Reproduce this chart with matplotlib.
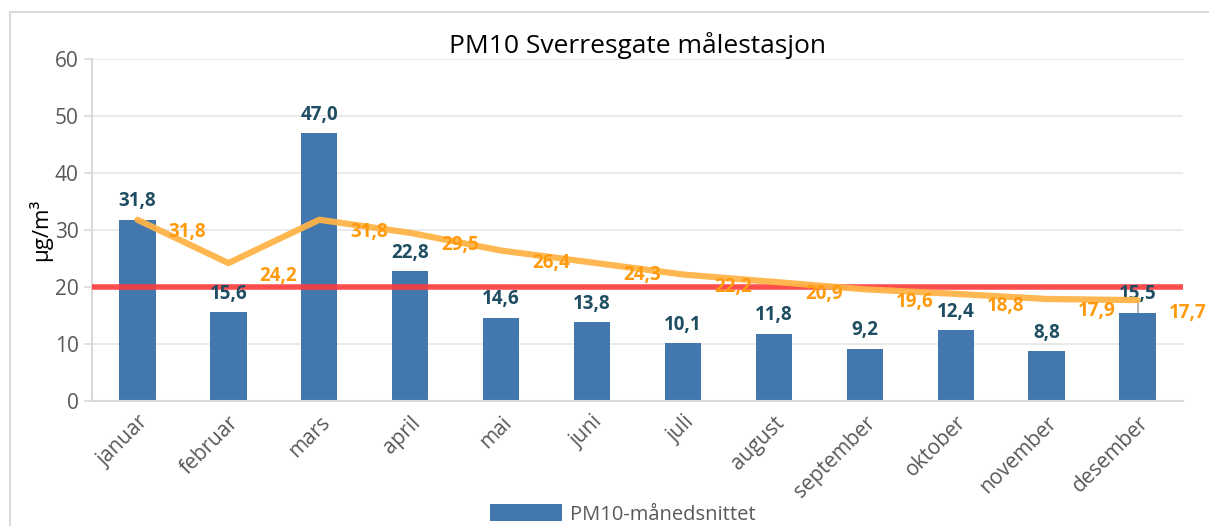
import matplotlib.pyplot as plt
from matplotlib.lines import Line2D

# monthly PM10 means and running average, Sverresgate
months = ["januar", "februar", "mars", "april", "mai", "juni", "juli",
          "august", "september", "oktober", "november", "desember"]
monthly = [31.8, 15.6, 47.0, 22.8, 14.6, 13.8, 10.1, 11.8, 9.2, 12.4, 8.8, 15.5]
running = [31.8, 24.2, 31.8, 29.5, 26.4, 24.3, 22.2, 20.9, 19.6, 18.8, 17.9, 17.7]
limit = 20
yticks = [0, 10, 20, 30, 40, 50, 60]

plt.rcParams['font.family'] = ['Open Sans', 'DejaVu Sans']

fig = plt.figure(figsize=(12.09, 5.26), dpi=100)
ax = fig.add_axes([0.0761, 0.2376, 0.9024, 0.6502])

# outer chart border (left and top edges only are visible)
bx, by = 10 / 1209, 1 - 12 / 526
fig.lines.append(Line2D([bx, bx, 1.0], [0.0, by, by], transform=fig.transFigure,
                        color="#D9D9D9", linewidth=1.5))

x = list(range(len(months)))
bar_color = "#4378AE"
bars = ax.bar(x, monthly, width=0.4, color=bar_color, zorder=2,
              label="PM10-månedsnittet")

ax.axhline(limit, color="#FF3B3B", linewidth=4, alpha=0.9, zorder=3)
ax.plot(x, running, color="#FFB347", linewidth=4.5, solid_capstyle="round",
        alpha=0.95, zorder=4)
ax.vlines(x[-1], monthly[-1], running[-1], color="#A6A6A6", linewidth=1.2, zorder=1)

for xi, v in zip(x, monthly):
    ax.annotate(f"{v:.1f}".replace(".", ","), (xi, v), xytext=(0, 6),
                textcoords="offset points", ha="center", va="bottom",
                fontsize=13.5, fontweight="bold", color="#1F4E63")

for xi, v in zip(x, running):
    ax.annotate(f"{v:.1f}".replace(".", ","), (xi, v), xytext=(36, -9),
                textcoords="offset points", ha="center", va="center",
                fontsize=13.5, fontweight="bold", color="#FF9A0D", zorder=5)

ax.set_xlim(-0.5, len(months) - 0.5)
ax.set_ylim(0, 60)
ax.set_yticks(yticks)
ax.set_xticks(x)
ax.set_xticklabels(months, rotation=45, ha="right", rotation_mode="anchor")
ax.tick_params(axis="both", colors="#D9D9D9", labelcolor="#595959",
               labelsize=15, length=6, width=1.2)
ax.tick_params(axis="x", length=0, pad=8)
ax.grid(axis="y", color="#E6E6E6", linewidth=1.2, zorder=0)
ax.set_axisbelow(True)
for s in ["top", "right"]:
    ax.spines[s].set_visible(False)
for s in ["left", "bottom"]:
    ax.spines[s].set_color("#D9D9D9")
    ax.spines[s].set_linewidth(1.5)

ax.set_ylabel("µg/m³", fontsize=16, color="black", labelpad=2)
ax.set_title("PM10 Sverresgate målestasjon", fontsize=19, color="black", pad=1)

fig.legend(handles=[bars], labels=["PM10-månedsnittet"], loc="center",
           bbox_to_anchor=(0.515, 0.022), frameon=False, fontsize=14.5,
           labelcolor="#595959", handlelength=3.6, handleheight=0.9,
           handletextpad=0.4)

plt.savefig("out.png", dpi=100)
